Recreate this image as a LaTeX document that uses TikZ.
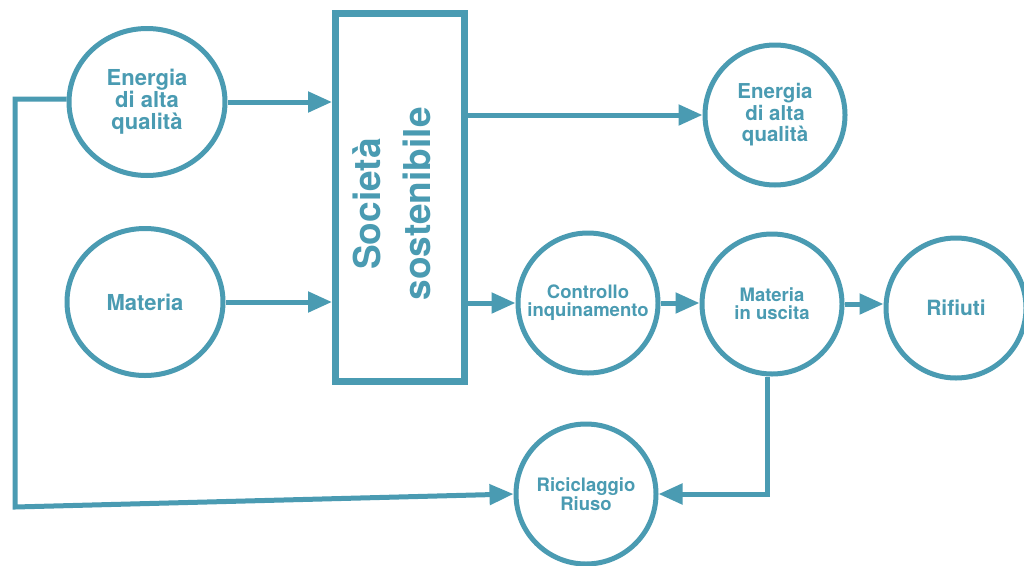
\documentclass[tikz,border=0pt]{standalone}
\usepackage{fontspec}
\setmainfont{TeX Gyre Heros}
\usetikzlibrary{arrows.meta,shapes.geometric}
\definecolor{teal1}{RGB}{74,155,178}
\begin{document}
\begin{tikzpicture}[x=1pt,y=-1pt,
  lbl/.style={text=teal1,font=\bfseries,align=center,inner sep=0pt},
  bigc/.style={ellipse,draw=teal1,line width=5pt,minimum width=156pt,minimum height=147pt,inner sep=0pt,text=teal1,font=\bfseries,align=center},
  smallc/.style={circle,draw=teal1,line width=5pt,minimum size=140pt,inner sep=0pt,text=teal1,font=\bfseries,align=center},
  flow/.style={draw=teal1,line width=5pt,line join=miter,-{Triangle[length=24pt,width=20pt]}},
]
\useasboundingbox (0,0) rectangle (1024,565);
\fill[white] (0,0) rectangle (1024,565);

\node[bigc,font=\bfseries\fontsize{22}{22}\selectfont] (e1) at (147,102) {Energia\\di alta\\qualità};
\node[bigc,font=\bfseries\fontsize{22}{22}\selectfont] (mat) at (145,302) {Materia};
\node[draw=teal1,line width=7pt,minimum width=129pt,minimum height=368pt,inner sep=0pt] (box) at (400,197.5) {};
\node[lbl,rotate=90,font=\bfseries\fontsize{37}{50}\selectfont] (boxt) at (392,204) {Società\\sostenibile};
\node[smallc,font=\bfseries\fontsize{20.5}{21.5}\selectfont] (e2) at (775,115) {Energia\\di alta\\qualità};
\node[smallc,font=\bfseries\fontsize{18.5}{18}\selectfont] (ctrl) at (588,303) {Controllo\\inquinamento};
\node[smallc,font=\bfseries\fontsize{18.5}{18}\selectfont] (usc) at (772,304) {Materia\\in uscita};
\node[smallc,font=\bfseries\fontsize{21}{21}\selectfont] (rif) at (956,308) {Rifiuti};
\node[smallc,font=\bfseries\fontsize{18.5}{19}\selectfont] (ric) at (586,494) {Riciclaggio\\Riuso};

\coordinate (fb1) at (15,99);
\coordinate (fb2) at (15,507);

\draw[flow] (e1.east) -- (e1.east -| box.west);
\draw[flow] (mat.east) -- (mat.east -| box.west);
\draw[flow] (box.east |- e2.west) -- (e2.west);
\draw[flow] (box.east |- ctrl.west) -- (ctrl.west);
\draw[flow] (ctrl.east) -- (ctrl.east -| usc.west);
\draw[flow] (usc.east) -- (usc.east -| rif.west);
\draw[flow] ([xshift=-5pt]usc.south) |- (ric.east);
\draw[flow] (e1.west |- fb1) -- (fb1) -- (fb2) -- (ric.west);
\end{tikzpicture}
\end{document}
